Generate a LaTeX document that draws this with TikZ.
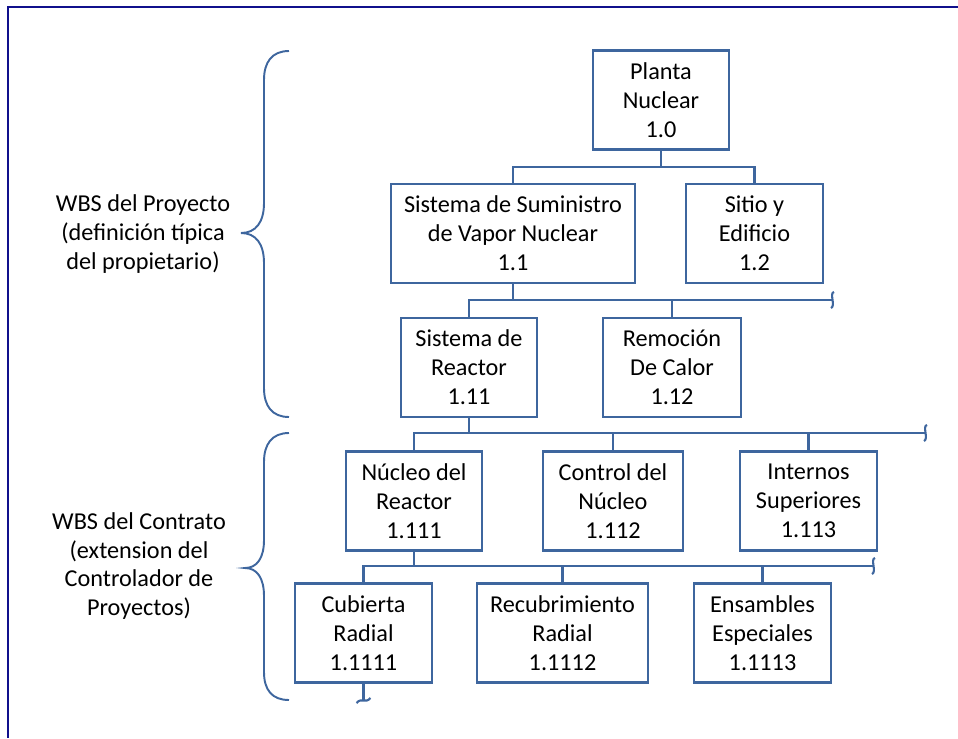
\documentclass[tikz,border=0pt]{standalone}
\usepackage{fontspec}
\setmainfont{Carlito}
\usetikzlibrary{positioning,calc}
\definecolor{wbsblue}{RGB}{62,102,158}
\definecolor{framenavy}{RGB}{16,16,140}
\tikzset{
  % cajas de la WBS
  wbsbox/.style={
    draw=wbsblue,
    line width=1.2pt,
    minimum height=1.98cm,
    inner sep=0pt,
    align=center,
    font=\fontsize{13.8}{16.5}\selectfont
  },
  % lineas de conexion
  link/.style={draw=wbsblue, line width=1.2pt},
  % llaves de la izquierda
  bracepath/.style={draw=wbsblue, line width=1.1pt},
  sidelabel/.style={align=center, font=\fontsize{13.8}{16.3}\selectfont},
  % corte ondulado al final de una linea
  cutmark/.pic={\draw[link] (2,-8) .. controls (-3,-7) and (4,6) .. (-1,8);},
  cutdown/.pic={\draw[link] (-7,3) .. controls (-2,-3) and (2,4) .. (7,-2);},
}
\begin{document}
\begin{tikzpicture}[x=0.02cm,y=-0.02cm]
  \useasboundingbox (0,0) rectangle (958,738);
  % marco
  \draw[framenavy, line width=1.4pt] (958,7) -- (8,7) -- (8,738);

  % nivel 1.0
  \node[wbsbox, minimum width=2.72cm] (p10) at (661,100) {Planta\\Nuclear\\1.0};
  % nivel 1.x
  \node[wbsbox, minimum width=4.88cm] (p11) at (513,233.5) {Sistema de Suministro\\de Vapor Nuclear\\1.1};
  \node[wbsbox, minimum width=2.74cm] (p12) at (754.5,233.5) {Sitio y\\Edificio\\1.2};
  % nivel 1.1x
  \node[wbsbox, minimum width=2.72cm] (p111) at (469,367.5) {Sistema de\\Reactor\\1.11};
  \node[wbsbox, minimum width=2.76cm] (p112) at (672,367.5) {Remoción\\De Calor\\1.12};
  % nivel 1.11x
  \node[wbsbox, minimum width=2.72cm] (p1111) at (414,501) {Núcleo del\\Reactor\\1.111};
  \node[wbsbox, minimum width=2.80cm] (p1112) at (613,501) {Control del\\Núcleo\\1.112};
  \node[wbsbox, minimum width=2.74cm] (p1113) at (808.5,501) {Internos\\Superiores\\1.113};
  % nivel 1.111x
  \node[wbsbox, minimum width=2.74cm] (p11111) at (363.5,633) {Cubierta\\Radial\\1.1111};
  \node[wbsbox, minimum width=3.42cm] (p11112) at (562.5,633) {Recubrimiento\\Radial\\1.1112};
  \node[wbsbox, minimum width=2.74cm] (p11113) at (762.5,633) {Ensambles\\Especiales\\1.1113};

  % buses horizontales
  \coordinate (b1) at (0,167);
  \coordinate (b2) at (832,300);
  \coordinate (b3) at (925,433);
  \coordinate (b4) at (873,566);
  \coordinate (b5) at (0,700);

  \draw[link] (p10.south) -- (p10.south |- b1);
  \draw[link] (p11.north) -- (p11.north |- b1) -- (p12.north |- b1) -- (p12.north);

  \draw[link] (p11.south) -- (p11.south |- b2);
  \draw[link] (p111.north) -- (p111.north |- b2) -- (b2);
  \draw[link] (p112.north) -- (p112.north |- b2);
  \pic at (b2) {cutmark};

  \draw[link] (p111.south) -- (p111.south |- b3);
  \draw[link] (p1111.north) -- (p1111.north |- b3) -- (b3);
  \draw[link] (p1112.north) -- (p1112.north |- b3);
  \draw[link] (p1113.north) -- (p1113.north |- b3);
  \pic at (b3) {cutmark};

  \draw[link] (p1111.south) -- (p1111.south |- b4);
  \draw[link] (p11111.north) -- (p11111.north |- b4) -- (b4);
  \draw[link] (p11112.north) -- (p11112.north |- b4);
  \draw[link] (p11113.north) -- (p11113.north |- b4);
  \pic at (b4) {cutmark};

  \draw[link] (p11111.south) -- (p11111.south |- b5);
  \pic at (p11111.south |- b5) {cutdown};

  % llaves
  \draw[bracepath] (289,51) .. controls (272,51) and (264,62) .. (264,80) -- (264,203)
    .. controls (264,222) and (256,233) .. (241,233)
    .. controls (256,233) and (264,244) .. (264,263) -- (264,388)
    .. controls (264,406) and (272,417) .. (289,417);
  \draw[bracepath] (289,433) .. controls (272,433) and (264,444) .. (264,462) -- (264,540)
    .. controls (264,558) and (257,568) .. (245,568)
    .. controls (257,568) and (264,578) .. (264,596) -- (264,672)
    .. controls (264,690) and (272,700) .. (289,700);

  % etiquetas
  \node[sidelabel] (proy) at (143,234) {WBS del Proyecto\\(definición típica\\del propietario)};
  \node[sidelabel] (contr) at (139,566) {WBS del Contrato\\(extension del\\Controlador de\\Proyectos)};
\end{tikzpicture}
\end{document}
